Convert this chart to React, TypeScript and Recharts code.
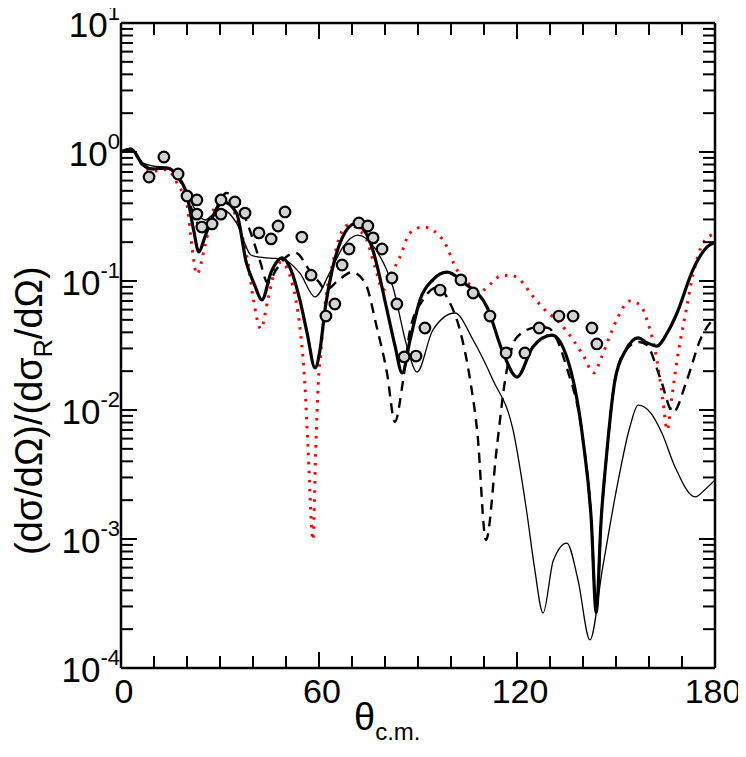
import { ComposedChart, Line, Scatter, XAxis, YAxis, Label } from "recharts";

// thick solid curve
const thickAngle = [0, 3, 6.7, 9.7, 13.9, 17.3, 20, 22, 23.6, 25.3, 27, 31, 35, 38, 40.5, 42.7, 45.5, 48.8, 51.5, 54.2, 56.4, 58.8, 60.3, 61.8, 64, 67, 70.9, 74, 76.3, 80.6, 83, 85.2, 87.6, 90.6, 94.5, 98.8, 104, 110.9, 115.8, 120, 124.8, 130.6, 136, 140, 142.5, 144, 145.5, 147, 149.7, 153, 156.7, 159.5, 162.4, 165.5, 168.5, 173.3, 177.6, 180];
const thickRatio = [1.0, 1.055, 0.793, 0.738, 0.751, 0.64, 0.464, 0.249, 0.168, 0.215, 0.282, 0.41, 0.336, 0.138, 0.093, 0.0713, 0.117, 0.151, 0.122, 0.0713, 0.0395, 0.0212, 0.0292, 0.0596, 0.122, 0.215, 0.277, 0.24, 0.174, 0.0596, 0.0317, 0.0194, 0.0349, 0.0713, 0.102, 0.117, 0.0965, 0.0629, 0.0277, 0.018, 0.0308, 0.0381, 0.0216, 0.00585, 0.00141, 0.00027, 0.00141, 0.00409, 0.0171, 0.0292, 0.0362, 0.0331, 0.0313, 0.0395, 0.0565, 0.122, 0.184, 0.2];

// thin solid curve
const thinAngle = [0, 3, 6.7, 9.7, 13.9, 17.3, 20, 22.5, 25.5, 28, 31, 35, 39.4, 42, 44, 46, 48.8, 54.2, 58.8, 63.3, 67.3, 71.8, 77.3, 82.4, 86.7, 89.7, 94.5, 101.2, 106.7, 112.7, 118.8, 123, 125.3, 127.9, 131, 135.1, 138.5, 142.1, 146, 150.3, 154.2, 156.7, 160.5, 163.9, 167.9, 174, 177, 180];
const thinRatio = [1.0, 1.036, 0.82, 0.779, 0.76, 0.66, 0.481, 0.355, 0.297, 0.33, 0.355, 0.282, 0.159, 0.153, 0.151, 0.15, 0.148, 0.115, 0.0752, 0.117, 0.184, 0.227, 0.174, 0.0898, 0.0308, 0.0197, 0.0417, 0.0565, 0.0349, 0.0171, 0.007, 0.00159, 0.0006, 0.000267, 0.00068, 0.00093, 0.00048, 0.000165, 0.00061, 0.00253, 0.00738, 0.0109, 0.0095, 0.00663, 0.00361, 0.00212, 0.00242, 0.00287];

// dashed curve
const dashAngle = [0, 3, 6.7, 9.7, 13.9, 17.3, 20, 22, 25, 28, 32, 35, 39, 42, 44.5, 47, 50, 53, 57, 60, 62, 66, 70, 74, 77.5, 80.6, 83, 85.5, 87.6, 91.5, 96, 99.5, 102.7, 105.8, 108, 110.6, 113.9, 116.4, 120, 126.4, 129.4, 135, 140, 142.5, 144, 145.5, 147, 149.7, 153, 157, 159.4, 163.3, 167.3, 171.5, 175.5, 180];
const dashRatio = [1.0, 1.055, 0.793, 0.738, 0.751, 0.64, 0.45, 0.33, 0.24, 0.33, 0.481, 0.43, 0.249, 0.146, 0.0965, 0.122, 0.153, 0.165, 0.122, 0.098, 0.0851, 0.102, 0.117, 0.0965, 0.044, 0.0194, 0.0081, 0.0171, 0.0417, 0.0713, 0.0898, 0.069, 0.0417, 0.0171, 0.00663, 0.00098, 0.00516, 0.0171, 0.0368, 0.044, 0.0433, 0.0216, 0.00585, 0.00141, 0.00027, 0.00141, 0.00409, 0.0171, 0.0292, 0.0337, 0.0318, 0.018, 0.00964, 0.0171, 0.0349, 0.0526];

// red dotted curve
const redAngle = [0, 3, 6.7, 9.7, 13.9, 17.3, 20, 21.5, 23, 25.5, 28, 31, 35.5, 38.5, 40, 42.4, 44.5, 46.7, 48.5, 52, 54.2, 55.7, 56.7, 58.2, 59, 59.8, 60.6, 62, 64.2, 66.7, 69, 74, 77, 79.4, 82, 84.5, 87.6, 91.5, 97.6, 101.8, 105.8, 109, 112, 114.8, 117.9, 120.9, 124.5, 128.5, 133, 137, 140, 143.3, 145.5, 148, 150.6, 154.2, 157.3, 159.7, 162.4, 164.2, 165.5, 167, 169, 171, 173.3, 176.4, 179.5];
const redRatio = [1.0, 1.055, 0.78, 0.71, 0.73, 0.555, 0.39, 0.184, 0.113, 0.19, 0.355, 0.44, 0.282, 0.138, 0.0752, 0.0425, 0.0713, 0.122, 0.14, 0.093, 0.044, 0.0162, 0.0049, 0.00098, 0.0049, 0.0162, 0.0292, 0.0713, 0.138, 0.236, 0.272, 0.219, 0.128, 0.0851, 0.115, 0.153, 0.236, 0.262, 0.208, 0.122, 0.0931, 0.0836, 0.095, 0.109, 0.111, 0.102, 0.0779, 0.0596, 0.0472, 0.0349, 0.0267, 0.0194, 0.0253, 0.0368, 0.0526, 0.07, 0.0652, 0.0472, 0.0244, 0.012, 0.007, 0.0131, 0.0292, 0.0545, 0.111, 0.197, 0.23];

// measured points
const expAngle = [8.5, 13.0, 17.3, 20.0, 23.0, 23.0, 24.5, 27.6, 30.3, 30.3, 34.5, 37.6, 41.8, 45.5, 47.6, 49.7, 54.8, 57.6, 62.1, 64.8, 67.0, 69.1, 72.1, 74.8, 76.4, 79.1, 82.1, 83.6, 85.8, 89.4, 92.1, 96.7, 103.0, 106.7, 111.8, 116.7, 122.4, 126.7, 132.7, 137.0, 142.7, 144.2];
const expRatio = [0.64, 0.915, 0.675, 0.456, 0.425, 0.33, 0.262, 0.277, 0.425, 0.33, 0.41, 0.336, 0.236, 0.212, 0.267, 0.343, 0.219, 0.111, 0.0535, 0.0663, 0.133, 0.177, 0.282, 0.267, 0.216, 0.177, 0.1055, 0.0663, 0.0258, 0.0262, 0.0432, 0.0851, 0.102, 0.0807, 0.0535, 0.0277, 0.0277, 0.0432, 0.0535, 0.0535, 0.0432, 0.0325];

const xMajor = [0, 60, 120, 180];
const xTicks = [0, 10, 20, 30, 40, 50, 60, 70, 80, 90, 100, 110, 120, 130, 140, 150, 160, 170, 180];
const decades = [-4, -3, -2, -1, 0, 1];
const minorSteps = [2, 3, 4, 5, 6, 7, 8, 9];

const yTicks: number[] = [];
decades.forEach((d) => {
  yTicks.push(Math.pow(10, d));
  if (d < 1) minorSteps.forEach((m) => yTicks.push(m * Math.pow(10, d)));
});

const toPoints = (a: number[], r: number[]) => a.map((t, i) => ({ t, v: r[i] }));

const FONT = "'Liberation Sans', Arial, sans-serif";

const decadeOf = (v: number) => {
  const e = Math.round(Math.log10(v));
  return Math.abs(v - Math.pow(10, e)) < 1e-6 * v ? e : null;
};

const LeftTick = ({ x, y, payload }: any) => {
  const e = decadeOf(payload.value);
  return (
    <g>
      <line x1={x} x2={x + (e !== null ? 16 : 12)} y1={y} y2={y} stroke="#000" strokeWidth={2} />
      {e !== null && (
        <text x={x - 1} y={y + 14} textAnchor="end" fontSize={35} fontFamily={FONT} fill="#000">
          10<tspan dy={-17} fontSize={22}>{e}</tspan>
        </text>
      )}
    </g>
  );
};

const RightTick = ({ x, y, payload }: any) => {
  const e = decadeOf(payload.value);
  return <line x1={x} x2={x - (e !== null ? 16 : 12)} y1={y} y2={y} stroke="#000" strokeWidth={2} />;
};

const BottomTick = ({ x, y, payload }: any) => {
  const major = xMajor.includes(payload.value);
  // the last label sits a little inside the frame, like the original
  const nudge = payload.value === 180 ? -2 : 3;
  return (
    <g>
      <line x1={x} x2={x} y1={y} y2={y - (major ? 16 : 12)} stroke="#000" strokeWidth={2} />
      {major && (
        <text x={x + nudge} y={y + 35} textAnchor="middle" fontSize={34} fontFamily={FONT} fill="#000">
          {payload.value}
        </text>
      )}
    </g>
  );
};

const TopTick = ({ x, y, payload }: any) => {
  const major = xMajor.includes(payload.value);
  return <line x1={x} x2={x} y1={y} y2={y + (major ? 16 : 12)} stroke="#000" strokeWidth={2} />;
};

const Circle = ({ cx, cy }: any) => (
  <circle cx={cx} cy={cy} r={5.3} fill="#d3d3d3" stroke="#000" strokeWidth={2.2} />
);

export default function App() {
  return (
    <div style={{ margin: "-8px 0 0 -8px", width: 746, height: 750 }}>
      <ComposedChart width={746} height={750} margin={{ top: 0, right: 0, bottom: 0, left: 0 }}>
        <XAxis
          xAxisId="b"
          dataKey="t"
          type="number"
          domain={[0, 180]}
          ticks={xTicks}
          interval={0}
          height={82}
          tickSize={0}
          tickMargin={0}
          tickLine={false}
          tick={<BottomTick />}
          axisLine={{ stroke: "#000", strokeWidth: 2.5 }}
          allowDataOverflow
        >
          <Label
            content={() => (
              <text x={354} y={730} fontSize={38} fontFamily={FONT} fill="#000">
                θ<tspan dy={10} fontSize={24}>c.m.</tspan>
              </text>
            )}
          />
        </XAxis>
        <XAxis
          xAxisId="t"
          orientation="top"
          dataKey="t"
          type="number"
          domain={[0, 180]}
          ticks={xTicks}
          interval={0}
          height={23}
          tickSize={0}
          tickMargin={0}
          tickLine={false}
          tick={<TopTick />}
          axisLine={{ stroke: "#000", strokeWidth: 2.5 }}
          allowDataOverflow
        />
        <YAxis
          yAxisId="l"
          dataKey="v"
          type="number"
          scale="log"
          domain={[1e-4, 10]}
          ticks={yTicks}
          interval={0}
          width={121}
          tickSize={0}
          tickMargin={0}
          tickLine={false}
          tick={<LeftTick />}
          axisLine={{ stroke: "#000", strokeWidth: 2.5 }}
          allowDataOverflow
        >
          <Label
            content={() => (
              <text
                x={42}
                y={555}
                transform="rotate(-90, 42, 555)"
                textAnchor="start"
                fontSize={38}
                fontFamily={FONT}
                fill="#000"
              >
                (dσ/dΩ)/(dσ<tspan dy={10} fontSize={25}>R</tspan>
                <tspan dy={-10}>/dΩ)</tspan>
              </text>
            )}
          />
        </YAxis>
        <YAxis
          yAxisId="r"
          orientation="right"
          type="number"
          scale="log"
          domain={[1e-4, 10]}
          ticks={yTicks}
          interval={0}
          width={31}
          tickSize={0}
          tickMargin={0}
          tickLine={false}
          tick={<RightTick />}
          axisLine={{ stroke: "#000", strokeWidth: 2.5 }}
          allowDataOverflow
        />
        <Line
          xAxisId="b"
          yAxisId="l"
          data={toPoints(redAngle, redRatio)}
          dataKey="v"
          type="monotone"
          stroke="#ff0000"
          strokeWidth={3}
          strokeDasharray="2.5 6.5"
          dot={false}
          isAnimationActive={false}
        />
        <Line
          xAxisId="b"
          yAxisId="l"
          data={toPoints(dashAngle, dashRatio)}
          dataKey="v"
          type="monotone"
          stroke="#000"
          strokeWidth={2.4}
          strokeDasharray="10 7"
          dot={false}
          isAnimationActive={false}
        />
        <Line
          xAxisId="b"
          yAxisId="l"
          data={toPoints(thinAngle, thinRatio)}
          dataKey="v"
          type="monotone"
          stroke="#000"
          strokeWidth={1.3}
          dot={false}
          isAnimationActive={false}
        />
        <Line
          xAxisId="b"
          yAxisId="l"
          data={toPoints(thickAngle, thickRatio)}
          dataKey="v"
          type="monotone"
          stroke="#000"
          strokeWidth={3.2}
          dot={false}
          isAnimationActive={false}
        />
        <Scatter
          xAxisId="b"
          yAxisId="l"
          data={toPoints(expAngle, expRatio)}
          dataKey="v"
          shape={<Circle />}
          isAnimationActive={false}
        />
      </ComposedChart>
    </div>
  );
}
